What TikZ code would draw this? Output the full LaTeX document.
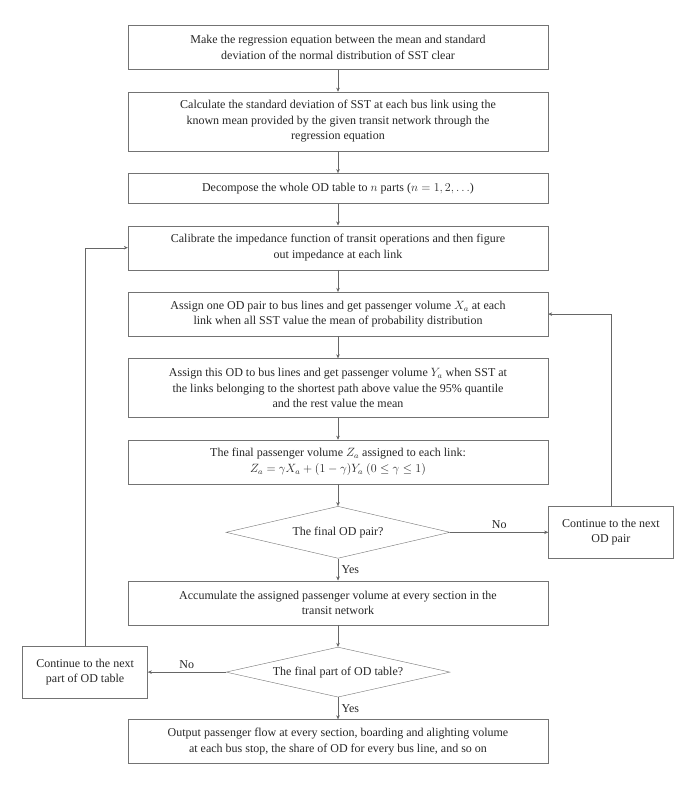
\documentclass[tikz,border=0pt]{standalone}
\usepackage{fontspec}
\setmainfont{Liberation Serif}
\usetikzlibrary{arrows.meta,positioning,shapes.geometric}

\begin{document}
\begin{tikzpicture}[node distance=22pt]
  \tikzstyle{stepbox}=[rectangle,draw=black!55,text=black!85,text width=400pt,inner xsep=10pt,inner ysep=4pt,minimum height=44pt,align=flush center,font=\fontsize{12}{15.5}\selectfont]
  \tikzstyle{sidebox}=[stepbox,text width=113pt,inner xsep=6pt,minimum height=52pt]
  \tikzstyle{test}=[diamond,draw=black!55,text=black!85,minimum width=224pt,minimum height=52pt,inner sep=0pt,aspect=4,font=\fontsize{12}{15.5}\selectfont]
  \tikzstyle{arr}=[draw=black!60,-{Stealth[length=4pt,width=3.5pt]}]
  \tikzstyle{lbl}=[text=black!85,font=\fontsize{12}{14}\selectfont]
  \useasboundingbox (0,0) rectangle (698pt,-787pt);
  % main column
  \node[stepbox] (regr) at (338pt,-47.5pt) {Make the regression equation between the mean and standard\\deviation of the normal distribution of SST clear};
  \node[stepbox,below=of regr,minimum height=59pt] (stdev) {Calculate the standard deviation of SST at each bus link using the\\known mean provided by the given transit network through the\\regression equation};
  \node[stepbox,below=of stdev,minimum height=30pt] (split) {Decompose the whole OD table to $n$ parts ($n = 1, 2, \ldots$)};
  \node[stepbox,below=of split] (calib) {Calibrate the impedance function of transit operations and then figure\\out impedance at each link};
  \node[stepbox,below=of calib] (assign1) {Assign one OD pair to bus lines and get passenger volume $X_a$ at each\\link when all SST value the mean of probability distribution};
  \node[stepbox,below=of assign1,minimum height=59pt] (assign2) {Assign this OD to bus lines and get passenger volume $Y_a$ when SST at\\the links belonging to the shortest path above value the 95\% quantile\\and the rest value the mean};
  \node[stepbox,below=of assign2] (final) {The final passenger volume $Z_a$ assigned to each link:\\$Z_a = \gamma X_a + (1-\gamma)Y_a$ $(0 \le \gamma \le 1)$};
  \node[test,below=of final] (lastod) {The final OD pair?};
  \node[sidebox,right=98pt of lastod] (nextod) {Continue to the next\\OD pair};
  \node[stepbox,below=of lastod] (accum) {Accumulate the assigned passenger volume at every section in the\\transit network};
  \node[test,below=of accum,minimum height=50pt] (lastpart) {The final part of OD table?};
  \node[sidebox,left=78pt of lastpart] (nextpart) {Continue to the next\\part of OD table};
  \node[stepbox,below=of lastpart] (output) {Output passenger flow at every section, boarding and alighting volume\\at each bus stop, the share of OD for every bus line, and so on};
  % connectors
  \draw[arr] (regr) -- (stdev);
  \draw[arr] (stdev) -- (split);
  \draw[arr] (split) -- (calib);
  \draw[arr] (calib) -- (assign1);
  \draw[arr] (assign1) -- (assign2);
  \draw[arr] (assign2) -- (final);
  \draw[arr] (final) -- (lastod);
  \draw[arr] (lastod) -- node[lbl,above] {No} (nextod);
  \draw[arr] (nextod) |- (assign1);
  \draw[arr] (lastod) -- node[lbl,right] {Yes} (accum);
  \draw[arr] (accum) -- (lastpart);
  \draw[arr] (lastpart) -- node[lbl,above] {No} (nextpart);
  \draw[arr] (nextpart) |- (calib);
  \draw[arr] (lastpart) -- node[lbl,right] {Yes} (output);
\end{tikzpicture}
\end{document}
